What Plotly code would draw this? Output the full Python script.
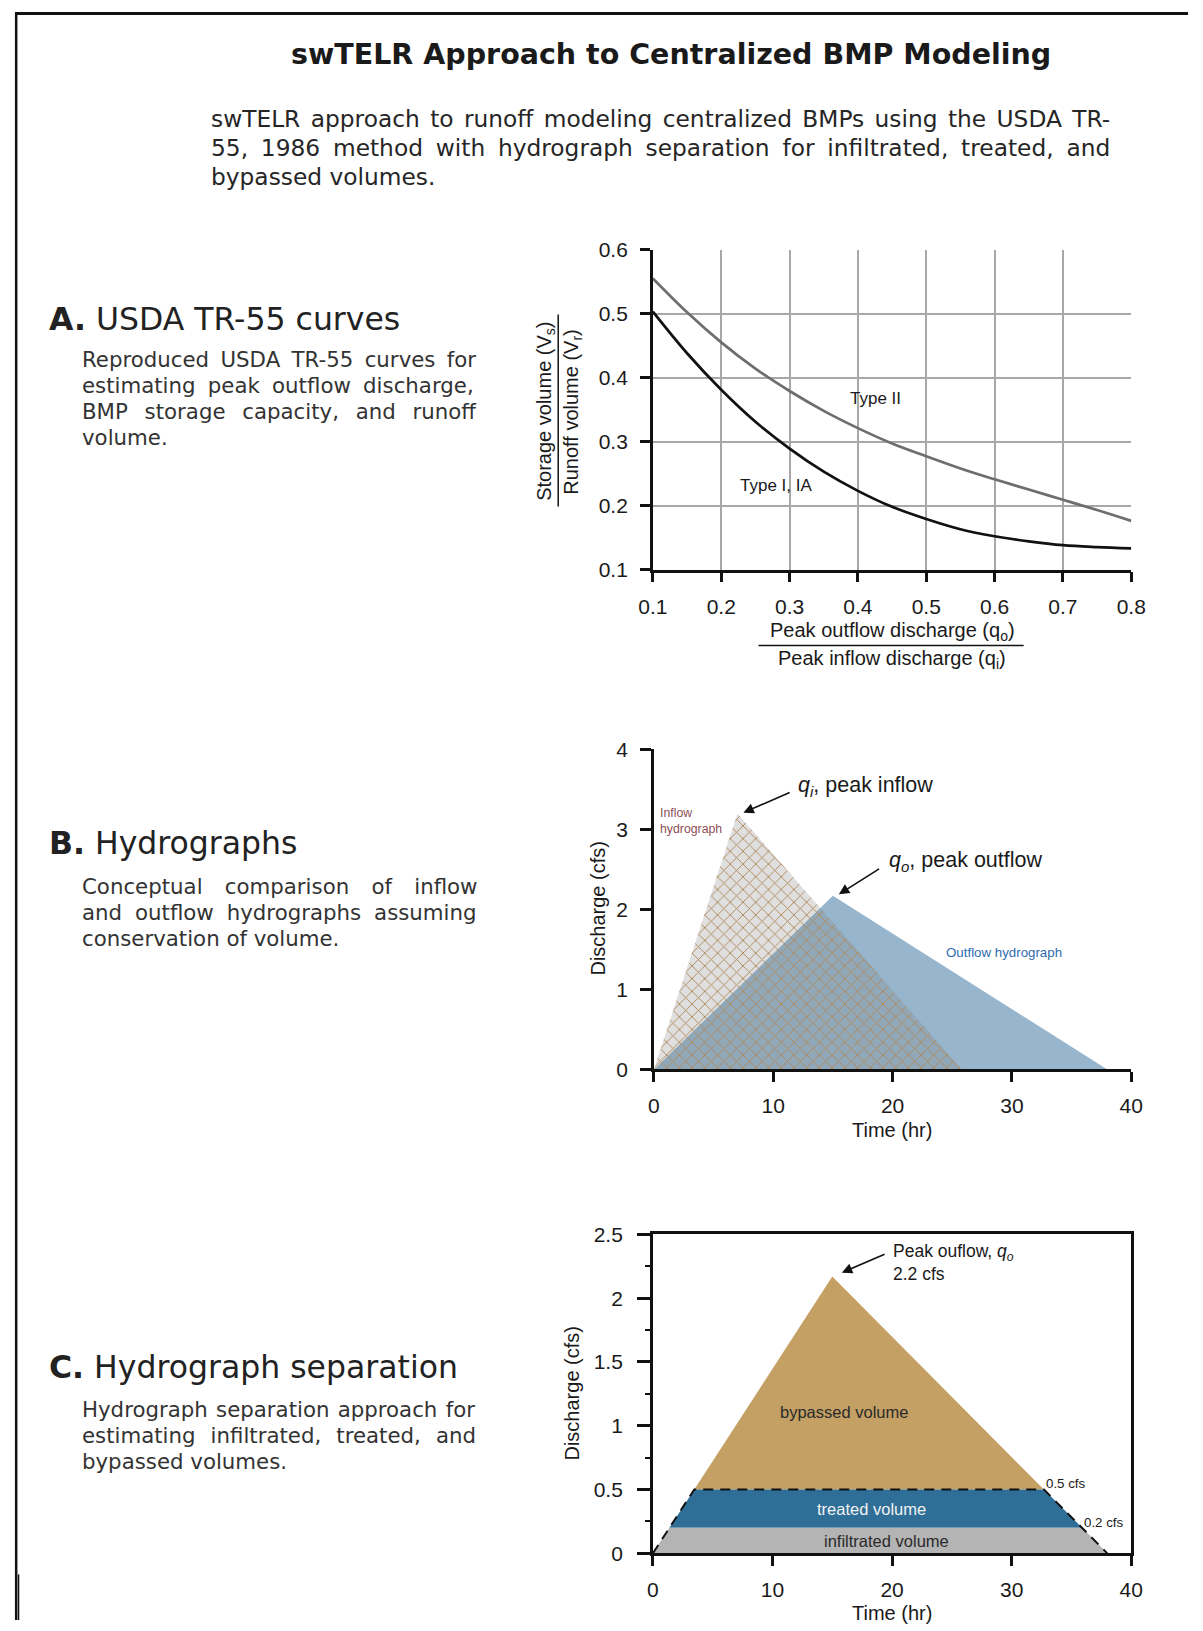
import plotly.graph_objects as go

W, H = 1203, 1631

# ---------------- Data ----------------
# Panel A: USDA TR-55 curves (qo/qi vs Vs/Vr)
qo_qi = [0.10, 0.15, 0.20, 0.25, 0.30, 0.35, 0.40, 0.45, 0.50, 0.55, 0.60, 0.65, 0.70, 0.75, 0.80]
type_I_IA = [0.503, 0.438, 0.381, 0.331, 0.289, 0.253, 0.223, 0.198, 0.179, 0.163, 0.152, 0.144, 0.138, 0.135, 0.133]
type_II = [0.555, 0.502, 0.455, 0.414, 0.379, 0.348, 0.321, 0.297, 0.277, 0.258, 0.241, 0.225, 0.209, 0.193, 0.176]

# Panel B: triangular hydrographs (time hr, discharge cfs)
inflow_t = [0, 7.0, 25.8]
inflow_q = [0, 3.2, 0]
outflow_t = [0, 15.0, 38.0]
outflow_q = [0, 2.17, 0]

# Panel C: hydrograph separation
infiltrated_t = [0, 1.38, 35.9, 38.0]
infiltrated_q = [0, 0.2, 0.2, 0]
treated_t = [1.38, 3.46, 32.7, 35.9]
treated_q = [0.2, 0.5, 0.5, 0.2]
bypassed_t = [3.46, 15.0, 32.7]
bypassed_q = [0.5, 2.17, 0.5]
threshold_t = [0, 3.46, 32.7, 38.0]
threshold_q = [0, 0.5, 0.5, 0]

# Text content (line text, extra word spacing in px to mimic justified text)
title_text = "swTELR Approach to Centralized BMP Modeling"
intro_lines = [("swTELR approach to runoff modeling centralized BMPs using the USDA TR-", 3.0),
               ("55, 1986 method with hydrograph separation for infiltrated, treated, and", 5.4),
               ("bypassed volumes.", 0)]
sections = [
    ("A.", " USDA TR-55 curves", [("Reproduced USDA TR-55 curves for", 4.6),
                                  ("estimating peak outflow discharge,", 5.5),
                                  ("BMP storage capacity, and runoff", 10.0),
                                  ("volume.", 0)]),
    ("B.", " Hydrographs", [("Conceptual comparison of inflow", 15.5),
                            ("and outflow hydrographs assuming", 6.2),
                            ("conservation of volume.", 0)]),
    ("C.", " Hydrograph separation", [("Hydrograph separation approach for", 1.5),
                                      ("estimating infiltrated, treated, and", 8.3),
                                      ("bypassed volumes.", 0)]),
]

# ---------------- Helpers ----------------
# page position (in reference pixels) -> paper fraction (calibrated to the rendered page)
def px(x):
    return (1.0221 * x - 12.2) / W

def py(y):
    return 1 - (1.0141 * y - 10.5) / H

LBL_FAMILY = "Liberation Sans Narrow, Liberation Sans, Arial"
TXT_FAMILY = "DejaVu Sans, Noto Sans, sans-serif"
TICK_FONT = dict(family=LBL_FAMILY, size=21, color="#1a1a1a")

fig = go.Figure()

# ---------------- Panel A traces ----------------
fig.add_trace(go.Scatter(x=qo_qi, y=type_II, mode="lines", line=dict(color="#6e6e6e", width=2.7, shape="spline"),
                         xaxis="x", yaxis="y", showlegend=False, hoverinfo="skip"))
fig.add_trace(go.Scatter(x=qo_qi, y=type_I_IA, mode="lines", line=dict(color="#111111", width=2.7, shape="spline"),
                         xaxis="x", yaxis="y", showlegend=False, hoverinfo="skip"))

# ---------------- Panel B traces ----------------
fig.add_trace(go.Scatter(x=outflow_t, y=outflow_q, mode="lines", fill="toself", fillcolor="#97b5cc",
                         line=dict(width=0, color="rgba(0,0,0,0)"), xaxis="x2", yaxis="y2",
                         showlegend=False, hoverinfo="skip"))
fig.add_trace(go.Scatter(x=inflow_t, y=inflow_q, mode="lines", fill="toself",
                         fillcolor="rgba(128,128,128,0.25)",
                         fillpattern=dict(shape="x", fgcolor="#b08a5c", bgcolor="rgba(128,128,128,0.25)",
                                          size=9, solidity=0.2, fgopacity=1),
                         line=dict(width=0, color="rgba(0,0,0,0)"), xaxis="x2", yaxis="y2",
                         showlegend=False, hoverinfo="skip"))

# ---------------- Panel C traces ----------------
fig.add_trace(go.Scatter(x=bypassed_t, y=bypassed_q, mode="lines", fill="toself", fillcolor="#c4a064",
                         line=dict(width=0, color="rgba(0,0,0,0)"), xaxis="x3", yaxis="y3",
                         showlegend=False, hoverinfo="skip"))
fig.add_trace(go.Scatter(x=treated_t, y=treated_q, mode="lines", fill="toself", fillcolor="#2f6f97",
                         line=dict(width=0, color="rgba(0,0,0,0)"), xaxis="x3", yaxis="y3",
                         showlegend=False, hoverinfo="skip"))
fig.add_trace(go.Scatter(x=infiltrated_t, y=infiltrated_q, mode="lines", fill="toself", fillcolor="#b4b4b4",
                         line=dict(width=0, color="rgba(0,0,0,0)"), xaxis="x3", yaxis="y3",
                         showlegend=False, hoverinfo="skip"))
fig.add_trace(go.Scatter(x=threshold_t, y=threshold_q, mode="lines",
                         line=dict(width=2, color="#111111", dash="10px,7px"), xaxis="x3", yaxis="y3",
                         showlegend=False, hoverinfo="skip"))

# ---------------- Axes ----------------
common = dict(showline=True, linecolor="#111111", linewidth=2.6, ticks="outside", tickcolor="#111111",
              tickwidth=2.6, tickfont=TICK_FONT, zeroline=False, fixedrange=True)

fig.update_layout(
    width=W, height=H, margin=dict(l=0, r=0, t=0, b=0),
    paper_bgcolor="white", plot_bgcolor="rgba(0,0,0,0)",
    xaxis=dict(domain=[px(652), px(1132)], range=[0.1, 0.8], dtick=0.1, tick0=0.1, tickformat=".1f",
               showgrid=True, gridcolor="#a8a8a8", gridwidth=1.5, anchor="y", ticklen=10,
               ticklabelstandoff=6, **common),
    yaxis=dict(domain=[py(568), py(248)], range=[0.1, 0.6], dtick=0.1, tick0=0.1, tickformat=".1f",
               showgrid=True, gridcolor="#a8a8a8", gridwidth=1.5, anchor="x", ticklen=10,
               ticklabelstandoff=8, **common),
    xaxis2=dict(domain=[px(653), px(1132)], range=[0, 40], dtick=10, showgrid=False, anchor="y2",
                ticklen=10, ticklabelstandoff=6, **common),
    yaxis2=dict(domain=[py(1068), py(748)], range=[0, 4], dtick=1, showgrid=False, anchor="x2",
                ticklen=11, ticklabelstandoff=8, **common),
    xaxis3=dict(domain=[px(652), px(1132)], range=[0, 40], dtick=10, showgrid=False, anchor="y3",
                mirror=True, ticklen=10, ticklabelstandoff=6, **common),
    yaxis3=dict(domain=[py(1552), py(1233)], range=[0, 2.5], dtick=0.5, showgrid=False, anchor="x3",
                mirror=True, ticklen=13, ticklabelstandoff=10,
                minor=dict(dtick=0.25, ticks="outside", ticklen=5, tickwidth=2, tickcolor="#111111", showgrid=False),
                **common),
)

# ---------------- Shapes: page frame + fraction bars ----------------
shapes = [
    dict(type="line", xref="paper", yref="paper", x0=0, x1=1, y0=1 - 1.5 / H, y1=1 - 1.5 / H,
         line=dict(color="#111111", width=3)),
    dict(type="line", xref="paper", yref="paper", x0=1.2 / W, x1=1.2 / W, y0=1, y1=0,
         line=dict(color="#111111", width=2.5)),
    dict(type="line", xref="paper", yref="paper", x0=px(15.5), x1=px(15.5), y0=py(1573), y1=0,
         line=dict(color="#111111", width=1.5)),
    dict(type="line", xref="paper", yref="paper", x0=px(557), x1=px(557), y0=py(313), y1=py(505),
         line=dict(color="#111111", width=1.5)),
    dict(type="line", xref="paper", yref="paper", x0=px(758), x1=px(1024), y0=py(644), y1=py(644),
         line=dict(color="#111111", width=1.5)),
]
fig.update_layout(shapes=shapes)

ann = []

def text(x, y, s, size, family=TXT_FAMILY, color="#222222", xanchor="left", yanchor="middle", angle=0, align="left"):
    ann.append(dict(x=px(x), y=py(y), xref="paper", yref="paper", text=s, showarrow=False,
                    font=dict(family=family, size=size, color=color), xanchor=xanchor, yanchor=yanchor,
                    textangle=angle, align=align, borderpad=0))

def spaced(s, ws):
    if ws <= 0:
        return s
    return '<span style="word-spacing:%.1fpx">%s</span>' % (ws, s)

# Title and intro
text(670, 53, "<b>" + title_text + "</b>", 28.5, xanchor="center", color="#1a1a1a")
for i, (line, ws) in enumerate(intro_lines):
    text(208, 116.5 + i * 29.1, spaced(line, ws), 23.3, color="#262626")

# Left column sections
head_y = [317, 842, 1366]
body_y0 = [357.7, 884.9, 1407.9]
for (letter, head, body), hy, by0 in zip(sections, head_y, body_y0):
    text(45, hy, "<b>" + letter + "</b>" + head, 31.5, color="#222222")
    for j, (line, ws) in enumerate(body):
        text(78, by0 + j * 26.2, spaced(line, ws), 21.3, color="#333333")

# Panel A axis titles
text(544, 410, "Storage volume (V<sub>s</sub>)", 20, family=LBL_FAMILY, color="#1a1a1a", xanchor="center", angle=-90)
text(571, 410, "Runoff volume (V<sub>r</sub>)", 20, family=LBL_FAMILY, color="#1a1a1a", xanchor="center", angle=-90)
text(892, 630, "Peak outflow discharge (q<sub>o</sub>)", 20, family=LBL_FAMILY, color="#1a1a1a", xanchor="center")
text(892, 658, "Peak inflow discharge (q<sub>i</sub>)", 20, family=LBL_FAMILY, color="#1a1a1a", xanchor="center")

# Panel B axis titles
text(597, 907, "Discharge (cfs)", 20, family=LBL_FAMILY, color="#1a1a1a", xanchor="center", angle=-90)
text(892, 1129, "Time (hr)", 20, family=LBL_FAMILY, color="#1a1a1a", xanchor="center")

# Panel C axis titles
text(571, 1392, "Discharge (cfs)", 20, family=LBL_FAMILY, color="#1a1a1a", xanchor="center", angle=-90)
text(892, 1612, "Time (hr)", 20, family=LBL_FAMILY, color="#1a1a1a", xanchor="center")

def dtext(x, y, s, size, xr, yr, color="#1a1a1a", xanchor="left", yanchor="middle"):
    ann.append(dict(x=x, y=y, xref=xr, yref=yr, text=s, showarrow=False,
                    font=dict(family=LBL_FAMILY, size=size, color=color), xanchor=xanchor, yanchor=yanchor,
                    align="left", borderpad=0))

def arrow(x_head, y_head, x_tail, y_tail, xr, yr):
    ann.append(dict(x=x_head, y=y_head, ax=x_tail, ay=y_tail, xref=xr, yref=yr, axref=xr, ayref=yr,
                    text="", showarrow=True, arrowhead=2, arrowsize=1.3, arrowwidth=1.6, arrowcolor="#111111"))

# Panel A labels
dtext(0.426, 0.368, "Type II", 17, "x", "y", xanchor="center")
dtext(0.28, 0.231, "Type I, IA", 17, "x", "y", xanchor="center")

# Panel B labels
dtext(12.0, 3.54, "<i>q<sub>i</sub></i>, peak inflow", 21.5, "x2", "y2")
arrow(7.5, 3.21, 11.5, 3.47, "x2", "y2")
dtext(19.6, 2.60, "<i>q<sub>o</sub></i>, peak outflow", 21.5, "x2", "y2")
arrow(15.5, 2.19, 19.0, 2.52, "x2", "y2")
dtext(0.4, 3.10, "Inflow<br>hydrograph", 12.3, "x2", "y2", color="#8c4f55")
dtext(24.4, 1.46, "Outflow hydrograph", 13.3, "x2", "y2", color="#2f6bb0")

# Panel C labels
dtext(16.0, 1.11, "bypassed volume", 16.5, "x3", "y3", color="#2a2a2a", xanchor="center")
dtext(18.3, 0.35, "treated volume", 16.5, "x3", "y3", color="#f2f2f2", xanchor="center")
dtext(19.5, 0.10, "infiltrated volume", 16.5, "x3", "y3", color="#2a2a2a", xanchor="center")
dtext(32.8, 0.55, "0.5 cfs", 13.3, "x3", "y3")
dtext(36.0, 0.24, "0.2 cfs", 13.3, "x3", "y3")
dtext(20.0, 2.28, "Peak ouflow, <i>q<sub>o</sub></i><br>2.2 cfs", 17.5, "x3", "y3")
arrow(15.8, 2.20, 19.5, 2.35, "x3", "y3")

fig.update_layout(annotations=ann)

fig.write_html("out.html")
